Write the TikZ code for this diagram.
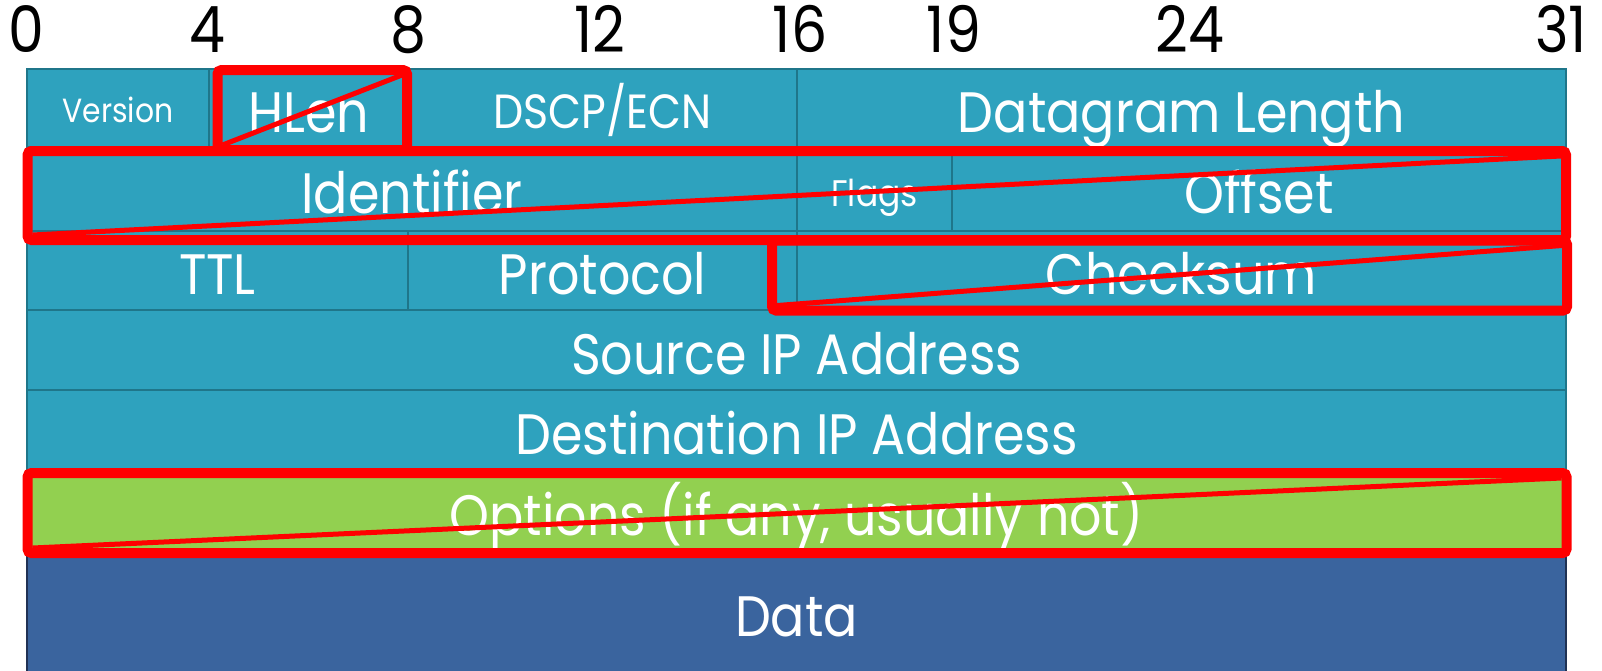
\documentclass[tikz,border=0pt]{standalone}
\usepackage{fontspec}
\setmainfont[FakeStretch=0.89]{Poppins}
\usepackage{tikz}
\usetikzlibrary{positioning}

\definecolor{cellfill}{RGB}{46,162,190}
\definecolor{cellline}{RGB}{31,118,138}
\definecolor{optfill}{RGB}{146,208,80}
\definecolor{datafill}{RGB}{58,100,158}
\definecolor{dataline}{RGB}{32,50,84}
\definecolor{markred}{RGB}{255,0,0}

\newcommand{\bigtxt}{\fontsize{57}{60}\selectfont}
\newcommand{\bittxt}{\fontsize{64}{66}\selectfont}
\newcommand{\dscptxt}{\fontsize{48}{50}\selectfont}
\newcommand{\flagtxt}{\fontsize{37}{40}\selectfont}
\newcommand{\vertxt}{\fontsize{33.5}{36}\selectfont}

\begin{document}
\begin{tikzpicture}[x=1pt, y=-1pt,
    fieldnode/.style={rectangle, draw=cellline, fill=cellfill, line width=2.5pt, inner sep=0pt, outer sep=0pt, anchor=north west, text=white, font=\bigtxt, text height=48pt, text depth=0pt},
    optnode/.style={fieldnode, fill=optfill},
    datanode/.style={fieldnode, draw=dataline, fill=datafill},
    marknode/.style={rectangle, draw=markred, line width=10pt, rounded corners=4pt, inner sep=0pt, outer sep=0pt, anchor=north west},
    slashline/.style={draw=markred, line width=5pt},
    bitnode/.style={anchor=base, font=\bittxt, text=black, inner sep=0pt}]

    \useasboundingbox (0,0) rectangle (1602,670);
    \clip (0,0) rectangle (1602,670);

    % bit positions
    \node[bitnode] (b0) at (26.6,52.7) {0};
    \node[bitnode] (b4) at (207,52.7) {4};
    \node[bitnode] (b8) at (408,52.7) {8};
    \node[bitnode] (b12) at (600,52.7) {12};
    \node[bitnode] (b16) at (800,52.7) {16};
    \node[bitnode] (b19) at (954,52.7) {19};
    \node[bitnode] (b24) at (1190,52.7) {24};
    \node[bitnode] (b31) at (1561,52.7) {31};

    % header rows
    \node[fieldnode, minimum width=182, minimum height=78, font=\vertxt, text height=29.4pt] (ver) at (27,69) {Version};
    \node[fieldnode, minimum width=199, minimum height=78] (hlen) [right=0pt of ver] {HLen};
    \node[fieldnode, minimum width=389, minimum height=78, font=\dscptxt, text height=40.6pt] (dscp) [right=0pt of hlen] {DSCP/ECN};
    \node[fieldnode, minimum width=769, minimum height=78] (dglen) [right=0pt of dscp] {Datagram Length};

    \node[fieldnode, minimum width=770, minimum height=84] (ident) at (27,147) {Identifier};
    \node[fieldnode, minimum width=155, minimum height=84, font=\flagtxt, text height=34pt] (flags) [right=0pt of ident] {Flags};
    \node[fieldnode, minimum width=614, minimum height=84] (offset) [right=0pt of flags] {Offset};

    \node[fieldnode, minimum width=381, minimum height=79] (ttl) at (27,231) {TTL};
    \node[fieldnode, minimum width=389, minimum height=79] (proto) [right=0pt of ttl] {Protocol};
    \node[fieldnode, minimum width=769, minimum height=79] (chksum) [right=0pt of proto] {Checksum};

    \node[fieldnode, minimum width=1539, minimum height=80] (srcip) at (27,310) {Source IP Address};
    \node[fieldnode, minimum width=1539, minimum height=81] (dstip) at (27,390) {Destination IP Address};
    \node[optnode, minimum width=1539, minimum height=81] (opts) at (27,471) {Options (if any, usually not)};
    \node[datanode, minimum width=1539, minimum height=120] (data) at (27,552) {Data};

    % red marks
    \node[marknode, minimum width=189.5, minimum height=80] (hlenmark) at (217.5,70) {};
    \node[marknode, minimum width=1538.5, minimum height=89] (identmark) at (27.5,151) {};
    \node[marknode, minimum width=795, minimum height=70] (chkmark) at (772,240.5) {};
    \node[marknode, minimum width=1539, minimum height=80] (optmark) at (27.5,473) {};

    \draw[slashline] ([shift={(5pt,5pt)}]hlenmark.south west) -- ([shift={(-5pt,-5pt)}]hlenmark.north east);
    \draw[slashline] ([shift={(5pt,5pt)}]identmark.south west) -- ([shift={(-5pt,-5pt)}]identmark.north east);
    \draw[slashline] ([shift={(5pt,5pt)}]chkmark.south west) -- ([shift={(-5pt,-5pt)}]chkmark.north east);
    \draw[slashline] ([shift={(5pt,5pt)}]optmark.south west) -- ([shift={(-5pt,-5pt)}]optmark.north east);

\end{tikzpicture}
\end{document}
